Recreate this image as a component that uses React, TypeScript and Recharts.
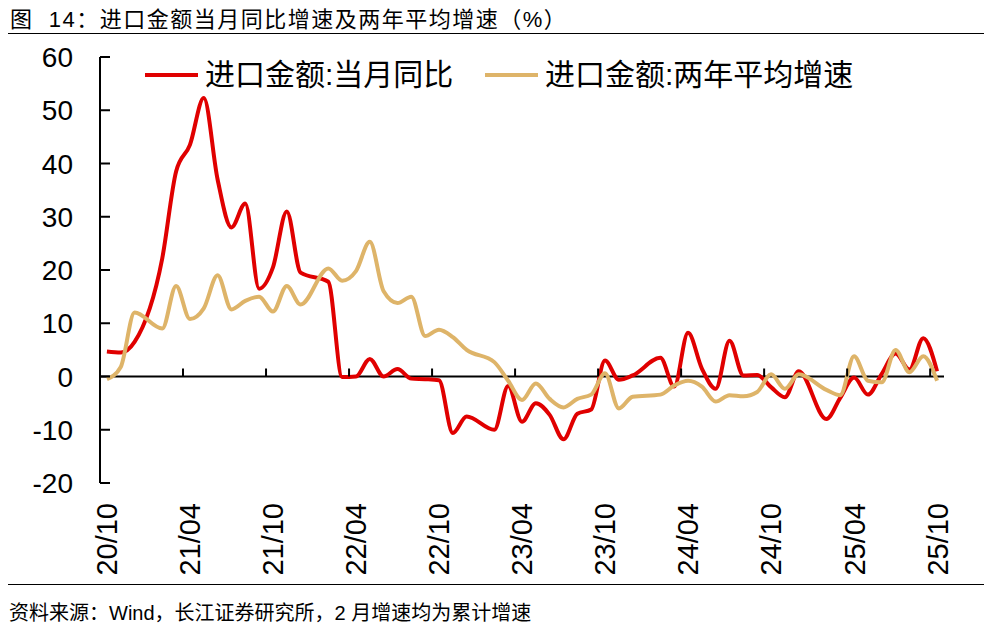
import { LineChart, Line, XAxis, YAxis, ReferenceLine } from 'recharts';

// 20/10 .. 25/10, one category per month
const months: string[] = [];
for (let k = 0; k <= 60; k++) {
  const total = 2020 * 12 + 9 + k;
  const yy = Math.floor(total / 12) % 100;
  const mm = (total % 12) + 1;
  months.push(`${String(yy).padStart(2, '0')}/${String(mm).padStart(2, '0')}`);
}

// 进口金额:当月同比 (%), January not published (Feb is cumulative)
const yoyValues: (number | null)[] = [
  4.7, 4.5, 6.5,
  null, 22.2, 38.5, 43.5, 52.3, 37.0, 28.0, 32.5, 16.5, 20.5, 31.0, 19.5,
  null, 17.8, -0.1, 0.0, 3.3, 0.0, 1.4, -0.4, -0.5, -0.7, -10.6, -7.5,
  null, -10.0, -1.8, -8.5, -5.0, -7.2, -11.8, -7.0, -6.2, 3.0, -0.6, 0.2,
  null, 3.5, -1.9, 8.2, 1.5, -2.3, 6.7, 0.2, 0.3, -2.0, -3.9, 1.0,
  null, -8.0, -4.0, -0.2, -3.4, 0.5, 4.3, 1.3, 7.2, 1.0,
];

// 进口金额:两年平均增速 (%)
const avgValues: (number | null)[] = [
  -0.5, 1.8, 12.0,
  null, 9.0, 17.0, 10.8, 12.8, 19.0, 12.6, 14.2, 15.0, 12.2, 17.0, 13.5,
  null, 20.3, 18.0, 19.8, 25.3, 16.0, 13.8, 15.0, 7.6, 8.8, 7.4, 5.0,
  null, 2.7, -0.8, -4.4, -1.3, -4.2, -5.8, -4.2, -3.4, 0.6, -6.0, -3.8,
  null, -3.4, -1.7, -0.8, -1.9, -4.7, -3.5, -3.7, -2.9, 0.4, -2.3, 0.4,
  null, -2.5, -3.5, 3.8, -0.8, -1.1, 5.0, 0.8, 3.8, -0.8,
];

const yTicks = [-20, -10, 0, 10, 20, 30, 40, 50, 60];

const data = months.map((month, i) => ({
  month,
  yoy: yoyValues[i],
  avg: avgValues[i],
}));

const W = 992;
const H = 629;
const PLOT_LEFT = 100;
const PLOT_RIGHT = 944;
const PLOT_TOP = 57;
const PLOT_BOTTOM = 483;
const BAND = (PLOT_RIGHT - PLOT_LEFT) / months.length;
const ZERO_Y = PLOT_TOP + ((60 - 0) / 80) * (PLOT_BOTTOM - PLOT_TOP);

const FONT = "'Liberation Sans', Arial, 'Noto Sans CJK SC', sans-serif";
const RED = '#E00000';
const TAN = '#DEB469';

function MonthTick(props: any) {
  const { x, payload } = props;
  const tickX = x - BAND / 2;
  return (
    <g>
      <line x1={tickX} x2={tickX} y1={ZERO_Y} y2={ZERO_Y - 8} stroke="#000" strokeWidth={2} />
      <text
        x={x}
        y={503}
        transform={`rotate(-90 ${x} 503)`}
        textAnchor="end"
        dy="0.36em"
        fontSize={29}
        fontFamily={FONT}
        fill="#000"
      >
        {payload.value}
      </text>
    </g>
  );
}

function ValueTick(props: any) {
  const { y, payload } = props;
  return (
    <g>
      <line x1={PLOT_LEFT} x2={PLOT_LEFT + 10} y1={y} y2={y} stroke="#000" strokeWidth={2} />
      <text x={73} y={y} textAnchor="end" dy="0.36em" fontSize={28} fontFamily={FONT} fill="#000">
        {payload.value}
      </text>
    </g>
  );
}

function LegendItem({ left, color, label }: { left: number; color: string; label: string }) {
  return (
    <div style={{ position: 'absolute', left, top: 60, height: 30, display: 'flex', alignItems: 'center' }}>
      <div style={{ width: 53, height: 4, background: color, marginRight: 7 }} />
      <span style={{ fontSize: 30, lineHeight: '30px', fontFamily: FONT, color: '#000', whiteSpace: 'nowrap' }}>
        {label}
      </span>
    </div>
  );
}

export default function App() {
  return (
    <div style={{ position: 'absolute', left: 0, top: 0, width: W, height: H, background: '#fff', fontFamily: FONT }}>
      <div
        style={{
          position: 'absolute',
          left: 10,
          top: 8,
          fontSize: 22,
          lineHeight: '24px',
          letterSpacing: 1.5,
          whiteSpace: 'pre',
          color: '#000',
        }}
      >
        图  14：进口金额当月同比增速及两年平均增速（%）
      </div>
      <div style={{ position: 'absolute', left: 8, top: 33, width: 976, height: 1, background: '#000' }} />

      <div style={{ position: 'absolute', left: 0, top: 0 }}>
        <LineChart width={W} height={H} data={data} margin={{ top: PLOT_TOP, right: W - PLOT_RIGHT, left: 0, bottom: 46 }}>
          <XAxis
            dataKey="month"
            scale="band"
            interval={5}
            height={100}
            axisLine={false}
            tickLine={false}
            tick={<MonthTick />}
          />
          <YAxis
            type="number"
            domain={[-20, 60]}
            ticks={yTicks}
            width={PLOT_LEFT}
            axisLine={{ stroke: '#000', strokeWidth: 2 }}
            tickLine={false}
            tick={<ValueTick />}
            interval={0}
          />
          <ReferenceLine y={0} stroke="#000" strokeWidth={2} />
          <Line
            dataKey="yoy"
            type="monotone"
            stroke={RED}
            strokeWidth={4}
            dot={false}
            connectNulls
            isAnimationActive={false}
          />
          <Line
            dataKey="avg"
            type="monotone"
            stroke={TAN}
            strokeWidth={4}
            dot={false}
            connectNulls
            isAnimationActive={false}
          />
        </LineChart>
      </div>

      <LegendItem left={145} color={RED} label="进口金额:当月同比" />
      <LegendItem left={485} color={TAN} label="进口金额:两年平均增速" />

      <div style={{ position: 'absolute', left: 8, top: 584, width: 976, height: 1, background: '#000' }} />
      <div
        style={{
          position: 'absolute',
          left: 9,
          top: 602,
          fontSize: 20,
          lineHeight: '22px',
          whiteSpace: 'nowrap',
          color: '#000',
        }}
      >
        资料来源：Wind，长江证券研究所，2 月增速均为累计增速
      </div>
    </div>
  );
}
